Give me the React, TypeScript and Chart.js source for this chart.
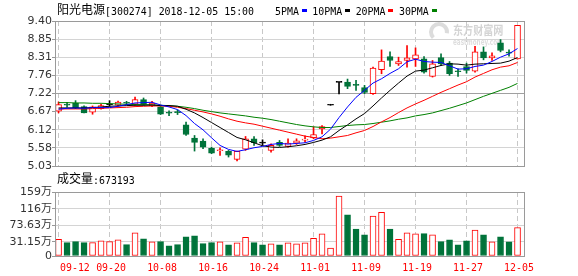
import React, { useEffect, useRef } from 'react';
import { Chart, registerables } from 'chart.js';

Chart.register(...registerables);

// ---------------- data ----------------
const stockName = '阳光电源';
const stockCode = '[300274]';
const quoteTime = '2018-12-05 15:00';
const volumeTitle = '成交量';
const lastVolumeText = '673193';
const maLegend = ['5PMA', '10PMA', '20PMA', '30PMA'];

const dates = [
  '09-12', '09-13', '09-14', '09-17', '09-18', '09-19', '09-20', '09-21', '09-25', '09-26',
  '09-27', '09-28', '10-08', '10-09', '10-10', '10-11', '10-12', '10-15', '10-16', '10-17',
  '10-18', '10-19', '10-22', '10-23', '10-24', '10-25', '10-26', '10-29', '10-30', '10-31',
  '11-01', '11-02', '11-05', '11-06', '11-07', '11-08', '11-09', '11-12', '11-13', '11-14',
  '11-15', '11-16', '11-19', '11-20', '11-21', '11-22', '11-23', '11-26', '11-27', '11-28',
  '11-29', '11-30', '12-03', '12-04', '12-05',
];

const opens = [
  6.68, 6.88, 6.93, 6.82, 6.65, 6.76, 6.87, 6.86, 6.93, 6.89,
  7.03, 6.84, 6.81, 6.63, 6.66, 6.27, 5.87, 5.78, 5.56, 5.49,
  5.47, 5.23, 5.54, 5.85, 5.72, 5.50, 5.74, 5.62, 5.72, 5.81,
  5.88, 6.15, 6.86, 7.55, 7.56, 7.48, 7.39, 7.21, 7.93, 8.33,
  8.11, 8.21, 8.26, 8.26, 7.73, 8.30, 8.13, 7.89, 8.03, 7.89,
  8.47, 8.29, 8.74, 8.45, 8.26,
];
const highs = [
  6.96, 6.95, 7.00, 6.84, 6.84, 6.89, 7.00, 6.99, 6.98, 7.11,
  7.08, 6.98, 6.82, 6.69, 6.72, 6.35, 5.95, 5.85, 5.60, 5.58,
  5.50, 5.48, 5.92, 5.92, 5.82, 5.70, 5.80, 5.85, 5.85, 5.94,
  6.21, 6.25, 6.86, 7.55, 7.65, 7.61, 7.46, 8.01, 8.53, 8.47,
  8.31, 8.66, 8.59, 8.33, 8.21, 8.41, 8.18, 7.96, 8.13, 8.64,
  8.62, 8.44, 8.84, 8.53, 9.27,
];
const lows = [
  6.63, 6.80, 6.76, 6.63, 6.59, 6.74, 6.83, 6.83, 6.87, 6.86,
  6.86, 6.82, 6.58, 6.55, 6.58, 5.95, 5.48, 5.55, 5.40, 5.35,
  5.30, 5.18, 5.50, 5.65, 5.65, 5.45, 5.62, 5.60, 5.68, 5.75,
  5.85, 6.00, 6.86, 7.20, 7.36, 7.31, 7.21, 7.19, 7.81, 8.03,
  8.06, 8.01, 8.03, 7.83, 7.71, 8.06, 7.76, 7.73, 7.83, 7.86,
  8.23, 8.21, 8.47, 8.34, 8.25,
];
const closes = [
  6.88, 6.86, 6.79, 6.63, 6.81, 6.85, 6.87, 6.96, 6.92, 7.03,
  6.89, 6.93, 6.59, 6.62, 6.64, 5.98, 5.74, 5.60, 5.42, 5.51,
  5.36, 5.47, 5.85, 5.73, 5.72, 5.65, 5.65, 5.72, 5.79, 5.84,
  5.98, 6.22, 6.86, 7.55, 7.43, 7.46, 7.25, 7.98, 8.19, 8.21,
  8.18, 8.29, 8.38, 7.86, 8.11, 8.11, 7.81, 7.87, 7.91, 8.47,
  8.29, 8.35, 8.51, 8.43, 9.27,
];
// volume in 万
const volumes = [
  37.6, 28.9, 31.5, 28.9, 28.9, 33.3, 31.5, 35.8, 23.8, 53.8,
  38.4, 30.7, 31.5, 20.5, 23.8, 43.5, 46.1, 26.4, 28.9, 30.7,
  23.0, 28.2, 42.8, 28.9, 23.0, 25.6, 23.0, 28.2, 25.6, 28.2,
  40.2, 51.2, 14.6, 148.5, 100.6, 64.0, 48.6, 97.3, 106.8, 64.0,
  37.6, 53.8, 51.2, 52.0, 48.6, 31.5, 35.8, 23.0, 33.3, 61.4,
  48.6, 30.7, 43.5, 30.7, 67.32,
];
const ma5 = [
  6.74, 6.77, 6.78, 6.77, 6.79, 6.79, 6.79, 6.83, 6.88, 6.93,
  6.94, 6.95, 6.87, 6.81, 6.73, 6.55, 6.31, 6.12, 5.88, 5.65,
  5.53, 5.47, 5.52, 5.58, 5.62, 5.68, 5.71, 5.69, 5.71, 5.73,
  5.80, 5.91, 6.14, 6.49, 6.81, 7.10, 7.31, 7.53, 7.66, 7.82,
  7.96, 8.17, 8.25, 8.18, 8.16, 8.15, 8.05, 7.95, 7.96, 8.03,
  8.07, 8.18, 8.31, 8.41, 8.57,
];
const ma10 = [
  6.78, 6.78, 6.78, 6.78, 6.79, 6.81, 6.83, 6.84, 6.85, 6.86,
  6.86, 6.87, 6.85, 6.85, 6.83, 6.74, 6.63, 6.49, 6.34, 6.19,
  6.04, 5.89, 5.82, 5.73, 5.64, 5.60, 5.59, 5.61, 5.64, 5.68,
  5.74, 5.81, 5.91, 6.10, 6.27, 6.45, 6.61, 6.84, 7.08, 7.31,
  7.53, 7.74, 7.89, 7.92, 7.99, 8.06, 8.11, 8.10, 8.07, 8.10,
  8.11, 8.12, 8.13, 8.19, 8.30,
];
const ma20 = [
  6.75, 6.75, 6.75, 6.75, 6.76, 6.77, 6.78, 6.79, 6.80, 6.82,
  6.83, 6.84, 6.84, 6.83, 6.80, 6.76, 6.71, 6.66, 6.60, 6.53,
  6.45, 6.38, 6.33, 6.29, 6.23, 6.17, 6.11, 6.05, 5.99, 5.93,
  5.89, 5.85, 5.87, 5.91, 5.95, 6.03, 6.10, 6.22, 6.36, 6.49,
  6.64, 6.78, 6.90, 7.01, 7.13, 7.25, 7.36, 7.47, 7.57, 7.71,
  7.82, 7.93, 8.01, 8.05, 8.15,
];
const ma30 = [
  6.94, 6.94, 6.93, 6.93, 6.92, 6.92, 6.91, 6.90, 6.89, 6.88,
  6.88, 6.87, 6.86, 6.85, 6.83, 6.80, 6.76, 6.71, 6.67, 6.63,
  6.60, 6.57, 6.54, 6.50, 6.47, 6.43, 6.38, 6.33, 6.28, 6.24,
  6.21, 6.19, 6.19, 6.22, 6.25, 6.27, 6.28, 6.31, 6.35, 6.39,
  6.44, 6.48, 6.54, 6.58, 6.63, 6.70, 6.77, 6.85, 6.93, 7.03,
  7.13, 7.22, 7.31, 7.40, 7.52,
];

const priceTickLabels = ['5.03', '5.58', '6.12', '6.67', '7.22', '7.76', '8.31', '8.85', '9.40'];
const priceMin = 5.03;
const priceMax = 9.40;
const volTickValues = [31.15, 73.63, 116, 159];
const volTickLabels = ['31.15万', '73.63万', '116万', '159万'];
const volZeroLabel = '0';
const dateLabelEvery = 6;

// ---------------- styling ----------------
const RED = '#ff0000';
const GREEN = '#00733a';
const BLACK = '#000000';
const MA_COLORS = ['#0000ff', '#000000', '#ff0000', '#008000'];
const X_MIN = -0.3;
const X_MAX = 54.88;
const VOL_FLOOR = -5.5;
const MONO_SCALE = 0.9;
const MONO_FONT = '11px "DejaVu Sans Mono", monospace';
const CJK_FONT = '12px "Noto Sans CJK SC", sans-serif';
const AXIS_FONT = { family: '"DejaVu Sans", "Noto Sans CJK SC", sans-serif', size: 11 };

const idx = dates.map((_, i) => i);
const candleColor = (i: number) =>
  closes[i] > opens[i] ? RED : closes[i] < opens[i] ? GREEN : BLACK;
const volUp = (i: number) =>
  closes[i] > opens[i] || (closes[i] === opens[i] && i > 0 && closes[i] > closes[i - 1]);

function monoWidth(ctx: CanvasRenderingContext2D, text: string) {
  ctx.save();
  ctx.font = MONO_FONT;
  const w = ctx.measureText(text).width * MONO_SCALE;
  ctx.restore();
  return w;
}
function monoText(ctx: CanvasRenderingContext2D, text: string, x: number, y: number, color = '#000') {
  ctx.save();
  ctx.font = MONO_FONT;
  ctx.fillStyle = color;
  ctx.textAlign = 'left';
  ctx.textBaseline = 'alphabetic';
  ctx.translate(x, y);
  ctx.scale(MONO_SCALE, 1);
  ctx.fillText(text, 0, 0);
  ctx.restore();
  return monoWidth(ctx, text);
}
function cjkText(ctx: CanvasRenderingContext2D, text: string, x: number, y: number, color = '#000') {
  ctx.save();
  ctx.font = CJK_FONT;
  ctx.fillStyle = color;
  ctx.textAlign = 'left';
  ctx.textBaseline = 'alphabetic';
  ctx.fillText(text, x, y);
  const w = ctx.measureText(text).width;
  ctx.restore();
  return w;
}
function drawFrame(chart: any) {
  const { ctx, chartArea: a } = chart;
  const L = Math.round(a.left) - 0.5;
  const T = Math.round(a.top) + 0.5;
  const R = Math.round(a.right) - 0.5;
  const B = Math.round(a.bottom) + 0.5;
  ctx.save();
  ctx.strokeStyle = '#9a9a9a';
  ctx.lineWidth = 1;
  ctx.strokeRect(L, T, R - L, B - T);
  ctx.restore();
}

const xScale = () => ({
  type: 'linear',
  min: X_MIN,
  max: X_MAX,
  bounds: 'data',
  offset: false,
  afterBuildTicks: (s: any) => {
    s.ticks = idx.filter((i) => i % dateLabelEvery === 0).map((v) => ({ value: v }));
  },
  grid: { color: '#c8c8c8', drawTicks: false, offset: false, lineWidth: 1, borderDash: [5, 3] },
  border: { display: false, dash: [5, 3] },
  ticks: { display: false },
  afterFit: (s: any) => {
    s.height = 0;
  },
});

const pricePlugin = {
  id: 'priceDecor',
  beforeDatasetsDraw(chart: any) {
    const { ctx } = chart;
    // watermark
    ctx.save();
    ctx.strokeStyle = '#dcdcdc';
    ctx.lineWidth = 4;
    ctx.beginPath();
    ctx.arc(439, 32, 8, Math.PI * 0.75, Math.PI * 2.05);
    ctx.stroke();
    ctx.font = 'bold 12px "Noto Sans CJK SC", sans-serif';
    ctx.fillStyle = '#d4d4d4';
    ctx.translate(453, 35);
    ctx.scale(0.84, 1);
    ctx.fillText('东方财富网', 0, 0);
    ctx.restore();
    ctx.save();
    ctx.font = 'bold 9px "DejaVu Sans", sans-serif';
    ctx.fillStyle = '#dedede';
    const ew = ctx.measureText('eastmoney.com').width;
    ctx.translate(453, 45);
    ctx.scale(50 / ew, 1);
    ctx.fillText('eastmoney.com', 0, 0);
    ctx.restore();
    drawFrame(chart);
  },
  afterDraw(chart: any) {
    const { ctx } = chart;
    const w = cjkText(ctx, stockName, 57, 13.5);
    monoText(ctx, `${stockCode} ${quoteTime}`, 57 + w, 14.5);
    let x = 275;
    maLegend.forEach((name, k) => {
      const tw = monoText(ctx, name, x, 14.5);
      const sq = x + tw + 3;
      ctx.save();
      ctx.fillStyle = MA_COLORS[k];
      ctx.fillRect(Math.round(sq), 9, 5, 3);
      ctx.restore();
      x = sq + 10.5;
    });
  },
};

const volPlugin = {
  id: 'volDecor',
  beforeDatasetsDraw(chart: any) {
    drawFrame(chart);
  },
  afterDraw(chart: any) {
    const { ctx, chartArea: a } = chart;
    const xs = chart.scales.x;
    const w = cjkText(ctx, volumeTitle, 57, 13);
    monoText(ctx, `:${lastVolumeText}`, 57 + w, 13.5);
    idx.forEach((i) => {
      if (i % dateLabelEvery !== 0) return;
      const label = dates[i];
      const lw = monoWidth(ctx, label);
      let cx = xs.getPixelForValue(i) + 1.5;
      cx = Math.max(cx, a.left + 4 + lw / 2);
      monoText(ctx, label, cx - lw / 2, 101, RED);
    });
  },
};

function priceConfig(): any {
  return {
    type: 'bar',
    data: {
      datasets: [
        ...[ma5, ma10, ma20, ma30].map((m, k) => ({
          type: 'line',
          label: maLegend[k],
          data: idx.map((i) => ({ x: i, y: m[i] })),
          borderColor: MA_COLORS[k],
          borderWidth: 1,
          pointRadius: 0,
          tension: 0,
          fill: false,
          order: 0,
        })),
        {
          type: 'bar',
          label: 'body',
          data: idx.map((i) => ({ x: i, y: [opens[i], closes[i]] })),
          backgroundColor: idx.map((i) => (closes[i] > opens[i] ? '#ffffff' : candleColor(i))),
          borderColor: idx.map(candleColor),
          borderWidth: 1,
          borderSkipped: false,
          barThickness: 6,
          minBarLength: 1,
          grouped: false,
          order: 1,
        },
        {
          type: 'bar',
          label: 'wick',
          data: idx.map((i) => ({ x: i, y: [lows[i], highs[i]] })),
          backgroundColor: idx.map(candleColor),
          borderWidth: 0,
          barThickness: 1,
          minBarLength: 1,
          grouped: false,
          order: 2,
        },
      ],
    },
    options: {
      responsive: false,
      animation: false,
      devicePixelRatio: 1,
      layout: { padding: { top: 21, right: 53, bottom: 10, left: 0 } },
      plugins: { legend: { display: false }, tooltip: { enabled: false } },
      scales: {
        x: xScale(),
        y: {
          type: 'linear',
          min: priceMin,
          max: priceMax,
          bounds: 'data',
          afterBuildTicks: (s: any) => {
            const n = priceTickLabels.length - 1;
            s.ticks = priceTickLabels.map((_, k) => ({ value: priceMin + (k * (priceMax - priceMin)) / n }));
          },
          ticks: {
            callback: (_v: any, i: number) => priceTickLabels[i],
            color: '#333',
            font: AXIS_FONT,
            padding: 0,
            autoSkip: false,
          },
          grid: {
            color: (c: any) => (c.index === 4 ? '#a0a0a0' : '#d4d4d4'),
            tickColor: '#999',
            tickLength: 4,
          },
          border: { display: false },
          afterFit: (s: any) => {
            s.width = 56;
          },
        },
      },
    },
    plugins: [pricePlugin],
  };
}

function volConfig(): any {
  const xs: any = xScale();
  xs.afterFit = (s: any) => {
    s.height = 20;
  };
  return {
    type: 'bar',
    data: {
      datasets: [
        {
          label: volumeTitle,
          data: idx.map((i) => ({ x: i, y: volumes[i] })),
          base: VOL_FLOOR,
          backgroundColor: idx.map((i) => (volUp(i) ? '#ffffff' : GREEN)),
          borderColor: idx.map((i) => (volUp(i) ? RED : GREEN)),
          borderWidth: 1,
          borderSkipped: false,
          barThickness: 6,
          grouped: false,
        },
      ],
    },
    options: {
      responsive: false,
      animation: false,
      devicePixelRatio: 1,
      layout: { padding: { top: 22, right: 53, bottom: 0, left: 0 } },
      plugins: { legend: { display: false }, tooltip: { enabled: false } },
      scales: {
        x: xs,
        y: {
          type: 'linear',
          min: VOL_FLOOR,
          max: volTickValues[volTickValues.length - 1],
          bounds: 'data',
          afterBuildTicks: (s: any) => {
            s.ticks = [{ value: VOL_FLOOR }, ...volTickValues.map((v) => ({ value: v }))];
          },
          ticks: {
            callback: (_v: any, i: number) => (i === 0 ? volZeroLabel : volTickLabels[i - 1]),
            color: '#333',
            font: AXIS_FONT,
            padding: 0,
            autoSkip: false,
          },
          grid: { color: '#d4d4d4', tickColor: '#999', tickLength: 4 },
          border: { display: false },
          afterFit: (s: any) => {
            s.width = 56;
          },
        },
      },
    },
    plugins: [volPlugin],
  };
}

export default function App() {
  const priceRef = useRef<HTMLCanvasElement>(null);
  const volRef = useRef<HTMLCanvasElement>(null);
  useEffect(() => {
    const pc = new Chart(priceRef.current as HTMLCanvasElement, priceConfig());
    const vc = new Chart(volRef.current as HTMLCanvasElement, volConfig());
    return () => {
      pc.destroy();
      vc.destroy();
    };
  }, []);
  return (
    <div style={{ position: 'absolute', left: 0, top: 0, width: 578, height: 276, background: '#fff', overflow: 'hidden' }}>
      <canvas ref={priceRef} width={578} height={176} style={{ position: 'absolute', left: 0, top: 0 }} />
      <canvas ref={volRef} width={578} height={106} style={{ position: 'absolute', left: 0, top: 170 }} />
    </div>
  );
}
